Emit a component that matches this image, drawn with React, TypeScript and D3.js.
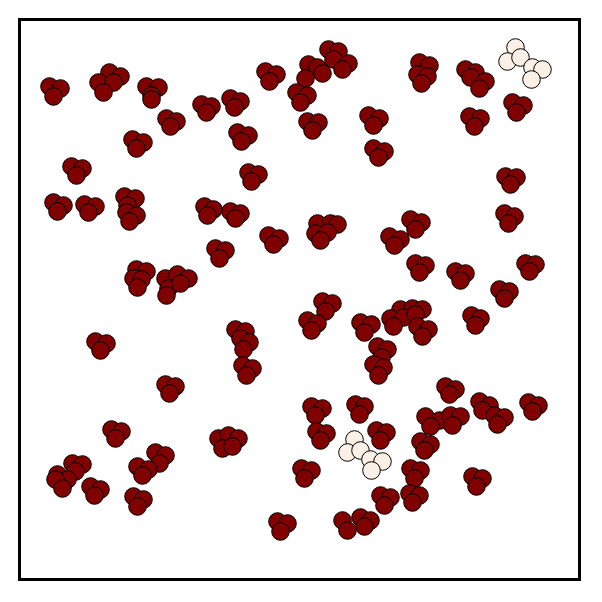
import * as d3 from 'd3';

// points, [x, y]
const darkPoints: [number, number][] = [
  [3.0, 49.3], [4.1, 49.1], [3.4, 48.3],
  [9.0, 50.7], [10.1, 50.3], [7.9, 49.7], [9.4, 49.7], [8.4, 48.7],
  [12.7, 49.3], [13.9, 49.2], [13.2, 48.4], [13.2, 48.0],
  [14.7, 46.1], [15.7, 45.8], [15.1, 45.3],
  [11.3, 44.0], [12.4, 43.7], [11.7, 43.1],
  [5.2, 41.3], [6.3, 41.1], [5.7, 40.4],
  [3.4, 37.7], [4.4, 37.4], [3.8, 36.8],
  [6.5, 37.5], [7.6, 37.3], [6.9, 36.7],
  [10.5, 38.3], [11.6, 38.1], [10.8, 37.4], [10.7, 36.7], [11.7, 36.4], [11.0, 35.8],
  [18.2, 47.5], [19.2, 47.3], [18.7, 46.7],
  [21.1, 48.1], [22.1, 47.8], [21.5, 47.2],
  [24.6, 50.8], [25.7, 50.5], [25.0, 49.8],
  [30.9, 53.0], [31.9, 52.8], [31.4, 52.0], [32.9, 51.6], [32.3, 51.0],
  [28.9, 51.5], [29.8, 51.2], [30.3, 50.6], [28.6, 50.1],
  [27.7, 48.7], [28.8, 48.4], [28.1, 47.7],
  [28.8, 45.8], [29.9, 45.7], [29.3, 44.9],
  [21.8, 44.7], [22.9, 44.4], [22.2, 43.8],
  [22.9, 40.7], [23.9, 40.5], [23.2, 39.8],
  [34.9, 46.4], [36.0, 46.1], [35.4, 45.4],
  [35.4, 43.1], [36.5, 42.8], [35.9, 42.2],
  [40.0, 51.7], [41.0, 51.4], [39.8, 50.5], [40.8, 50.3], [40.2, 49.6],
  [44.6, 51.0], [45.6, 50.7], [45.1, 50.2], [46.6, 49.8], [46.0, 49.1],
  [49.3, 47.7], [50.4, 47.4], [49.7, 46.7],
  [45.0, 46.3], [46.1, 46.1], [45.5, 45.3],
  [48.6, 40.3], [49.7, 40.2], [49.1, 39.5],
  [11.7, 31.0], [12.7, 30.8], [11.4, 30.1], [12.2, 30.0], [11.8, 29.2],
  [14.6, 30.1], [15.8, 30.5], [16.9, 30.1], [14.9, 29.1], [16.1, 29.6], [14.7, 28.4],
  [7.6, 23.8], [8.7, 23.6], [8.1, 22.9],
  [14.6, 19.5], [15.6, 19.3], [15.0, 18.6],
  [21.1, 36.8], [22.1, 36.6], [21.6, 36.1],
  [18.5, 37.3], [19.4, 37.0], [18.8, 36.4],
  [24.9, 34.4], [26.0, 34.1], [25.4, 33.5],
  [19.6, 33.1], [20.6, 32.9], [20.0, 32.1],
  [29.8, 35.6], [31.1, 35.6], [31.8, 35.5], [29.6, 34.6], [30.8, 34.7], [30.1, 33.9],
  [37.0, 34.3], [38.1, 34.0], [37.5, 33.4],
  [30.3, 27.8], [31.3, 27.6], [30.6, 26.8],
  [28.8, 25.9], [29.8, 25.6], [29.2, 24.9],
  [34.1, 25.7], [35.2, 25.5], [34.5, 24.7],
  [21.6, 25.0], [22.6, 24.8], [22.1, 24.1], [23.0, 23.7], [22.4, 23.0],
  [22.3, 21.4], [23.3, 21.1], [22.7, 20.4],
  [35.8, 23.3], [36.8, 23.0], [36.2, 22.2],
  [35.4, 21.5], [36.4, 21.2], [35.9, 20.4],
  [39.1, 36.0], [40.2, 35.7], [39.6, 35.0],
  [48.5, 36.6], [49.5, 36.3], [48.9, 35.6],
  [39.6, 31.6], [40.6, 31.4], [40.0, 30.7],
  [43.6, 30.8], [44.6, 30.6], [44.1, 29.9],
  [50.6, 31.6], [51.6, 31.5], [51.0, 30.8],
  [48.0, 29.0], [49.0, 28.8], [48.5, 28.1],
  [45.2, 26.4], [46.1, 26.1], [45.6, 25.4],
  [38.1, 27.0], [39.3, 27.1], [40.3, 27.0], [37.1, 26.1], [38.4, 26.2],
  [39.6, 26.5], [37.4, 25.3], [39.8, 25.3], [40.9, 25.0], [40.3, 24.3],
  [42.6, 19.3], [43.6, 19.0], [43.0, 18.5],
  [9.2, 15.0], [10.2, 14.8], [9.6, 14.1],
  [5.3, 11.6], [6.3, 11.5], [5.6, 10.8], [3.8, 10.5], [4.8, 10.0], [3.6, 10.0], [4.3, 9.1],
  [7.1, 9.3], [8.1, 9.0], [7.5, 8.4],
  [13.6, 12.7], [14.6, 12.4], [14.0, 11.6],
  [11.8, 11.3], [12.9, 11.0], [12.3, 10.4],
  [11.4, 8.3], [12.4, 8.0], [11.8, 7.3],
  [19.9, 14.1], [20.9, 14.4], [21.9, 14.1], [20.3, 13.1], [21.3, 13.3],
  [29.2, 17.3], [30.3, 17.1], [29.6, 16.4],
  [33.6, 17.5], [34.5, 17.3], [34.0, 16.5],
  [29.7, 14.8], [30.7, 14.6], [30.1, 13.9],
  [35.7, 14.9], [36.7, 14.7], [36.1, 13.9],
  [28.2, 11.1], [29.2, 10.9], [28.5, 10.1],
  [36.1, 8.4], [37.1, 8.2], [36.5, 7.4],
  [25.8, 5.8], [26.8, 5.6], [26.1, 4.8],
  [32.3, 5.9], [34.1, 6.2], [35.1, 5.9], [32.8, 4.9], [34.5, 5.3],
  [46.0, 17.8], [47.0, 17.4], [46.3, 16.9], [47.5, 16.4], [48.5, 16.2], [47.8, 15.5],
  [50.9, 17.7], [51.9, 17.4], [51.3, 16.8],
  [40.6, 16.3], [42.0, 15.9], [43.1, 16.4], [44.1, 16.3], [41.1, 15.3], [43.3, 15.4],
  [40.1, 13.8], [41.1, 13.5], [40.5, 12.9],
  [39.1, 11.1], [40.1, 10.9], [39.5, 10.1],
  [39.0, 8.6], [40.0, 8.4], [39.3, 7.7],
  [45.3, 10.3], [46.3, 10.1], [45.7, 9.3],
];

const lightPoints: [number, number][] = [
  [49.6, 53.2], [48.8, 51.8], [50.1, 52.2], [51.3, 51.2], [52.3, 51.0], [51.2, 50.0],
  [33.5, 14.0], [32.8, 12.7], [34.1, 12.9], [35.1, 12.0], [36.3, 11.8], [35.2, 10.9],
];

const xDomain: [number, number] = [0, 56];
const yDomain: [number, number] = [0, 56];

export default function App() {
  const size = 602;
  const frame = { left: 19.5, top: 19.5, right: 579.5, bottom: 579.5 };

  const x = d3.scaleLinear().domain(xDomain).range([frame.left, frame.right]);
  const y = d3.scaleLinear().domain(yDomain).range([frame.bottom, frame.top]);

  const r = 8.8;

  return (
    <svg
      width={size}
      height={size}
      style={{ position: 'absolute', left: 0, top: 0, background: '#fff' }}
    >
      <rect x={0} y={0} width={size} height={size} fill="#fff" />
      <g>
        {darkPoints.map((d, i) => (
          <circle key={'d' + i} cx={x(d[0])} cy={y(d[1])} r={r}
            fill="#800000" stroke="#000" strokeWidth={1} />
        ))}
        {lightPoints.map((d, i) => (
          <circle key={'l' + i} cx={x(d[0])} cy={y(d[1])} r={r}
            fill="#fbf0e6" stroke="#000" strokeWidth={1} />
        ))}
      </g>
      <rect
        x={frame.left}
        y={frame.top}
        width={frame.right - frame.left}
        height={frame.bottom - frame.top}
        fill="none"
        stroke="#000"
        strokeWidth={3}
      />
    </svg>
  );
}
